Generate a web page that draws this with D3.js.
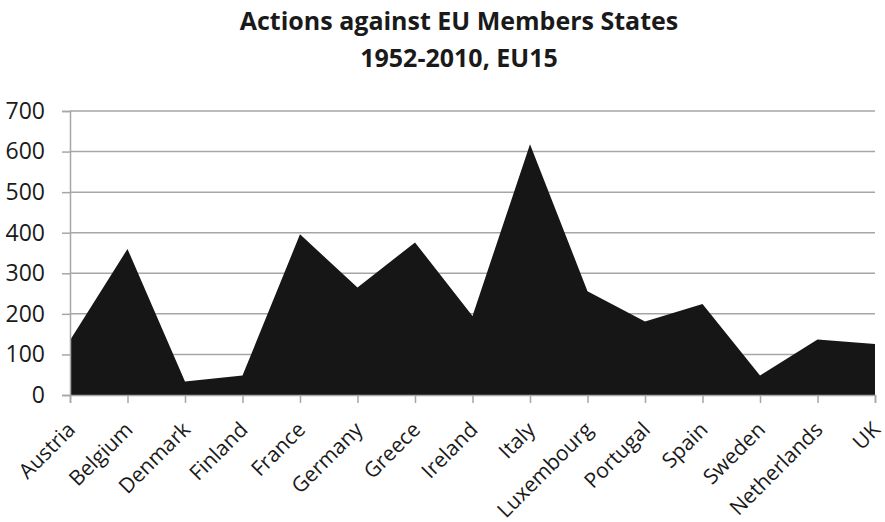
<!DOCTYPE html>
<html lang="en">
  <head>
    <meta charset="utf-8">
    <title>Actions against EU Members States</title>
    <script src="https://cdn.jsdelivr.net/npm/d3@7"></script>
    <style>
      body { margin: 0; background: #fff; }
    </style>
  </head>
  <body>
    <div id='chart'></div>
    <script type='text/javascript'>
      let countries = ['Austria', 'Belgium', 'Denmark', 'Finland', 'France', 'Germany', 'Greece',
                       'Ireland', 'Italy', 'Luxembourg', 'Portugal', 'Spain', 'Sweden', 'Netherlands', 'UK']
      let actions = [135, 360, 33, 48, 396, 265, 376, 195, 618, 256, 181, 224, 48, 137, 126]
      let y_ticks = [0, 100, 200, 300, 400, 500, 600, 700]
      let title_lines = ['Actions against EU Members States', '1952-2010, EU15']

      let margin = {top: 111, right: 10, bottom: 127, left: 70}
      let width = 885 - margin.left - margin.right
      let height = 522 - margin.top - margin.bottom
      let font = "'Open Sans', 'DejaVu Sans', sans-serif"

      let svg = d3.select('#chart').append('svg')
        .attr('width', 885)
        .attr('height', 522)
      let canvas = svg.append('g')
        .attr('transform', 'translate(' + margin.left + ',' + margin.top + ')')

      let scale_x = d3.scalePoint()
        .domain(countries)
        .range([0, 805])
      let scale_y = d3.scaleLinear()
        .domain([0, 700])
        .range([height, 0])

      // horizontal gridlines
      canvas.append('g')
        .selectAll('line')
        .data(y_ticks.slice(1))
        .enter()
        .append('line')
        .attr('x1', 0)
        .attr('x2', 805)
        .attr('y1', (d) => scale_y(d))
        .attr('y2', (d) => scale_y(d))
        .attr('stroke', '#a6a6a6')
        .attr('stroke-width', 1.5)

      // the area
      let area = d3.area()
        .x((d, i) => scale_x(countries[i]))
        .y0(scale_y(0))
        .y1((d) => scale_y(d))
      canvas.append('path')
        .datum(actions)
        .attr('d', area)
        .attr('fill', '#161616')

      // y axis
      let y_axis = d3.axisLeft(scale_y).tickValues(y_ticks).tickSize(8).tickPadding(17)
      let gy = canvas.append('g').call(y_axis)
      gy.selectAll('text')
        .attr('font-family', font)
        .attr('font-size', '23px')
        .attr('fill', '#1a1a1a')

      // x axis, labels turned 45 degrees and ending under each tick
      let x_axis = d3.axisBottom(scale_x).tickSize(8)
      let gx = canvas.append('g')
        .attr('transform', 'translate(0,' + height + ')')
        .call(x_axis)
      gx.selectAll('text')
        .attr('font-family', font)
        .attr('font-size', '21px')
        .attr('fill', '#1a1a1a')
        .attr('text-anchor', 'end')
        .attr('x', 0)
        .attr('y', 0)
        .attr('dy', 0)
        .attr('transform', 'translate(6,36) rotate(-45)')

      svg.selectAll('.domain, .tick line')
        .attr('stroke', '#a6a6a6')
        .attr('stroke-width', 1.5)

      // title
      svg.append('g')
        .selectAll('text')
        .data(title_lines)
        .enter()
        .append('text')
        .attr('x', 459)
        .attr('y', (d, i) => 30 + i * 37)
        .attr('text-anchor', 'middle')
        .attr('font-family', font)
        .attr('font-weight', 'bold')
        .attr('font-size', '25px')
        .attr('fill', '#1a1a1a')
        .text((d) => d)
    </script>
  </body>
</html>
